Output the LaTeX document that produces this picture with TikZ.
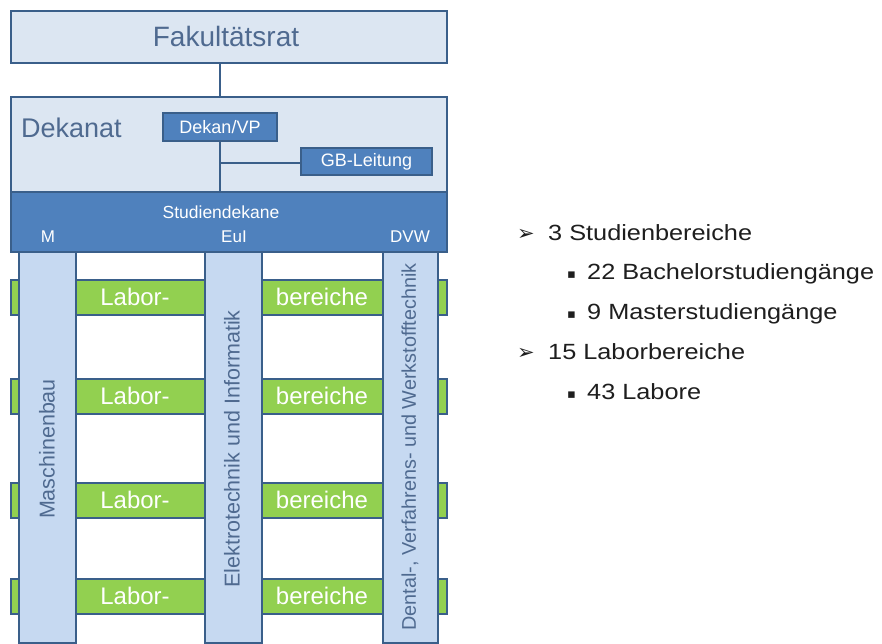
\documentclass[tikz,border=0pt]{standalone}
\usepackage{fontspec}
\setmainfont{Liberation Sans}
\newfontfamily\listfont[FakeStretch=1.15]{Liberation Sans}
\newfontfamily\symfont{DejaVu Sans}
\definecolor{lightfill}{HTML}{DCE6F2}
\definecolor{colfill}{HTML}{C6D9F1}
\definecolor{bordc}{HTML}{3A5F8A}
\definecolor{bandc}{HTML}{4F81BD}
\definecolor{greenc}{HTML}{92D050}
\definecolor{greytext}{HTML}{4F6A90}
\definecolor{listtext}{HTML}{1E1E1E}
\tikzset{
  box/.style={draw=bordc, line width=2pt, fill=lightfill},
  darkbox/.style={draw=bordc, line width=1.6pt, fill=bandc, text=white, inner sep=0pt},
  greenbar/.style={draw=bordc, line width=2pt, fill=greenc},
  column/.style={draw=bordc, line width=2pt, fill=colfill},
  conn/.style={draw=bordc, line width=2pt},
  listitem/.style={anchor=base west, inner sep=0pt, text=listtext, font=\listfont\fontsize{22}{26}\selectfont},
}
\newcommand{\arrowmark}{\makebox[31pt][l]{\symfont\fontsize{21}{24}\selectfont ➢}}
\newcommand{\sqmark}{\makebox[20pt][l]{\raisebox{1pt}{\symfont\fontsize{13}{16}\selectfont ▪}}}
\begin{document}
\begin{tikzpicture}[x=1pt, y=-1pt]
\useasboundingbox (0,0) rectangle (882,643);
% Fakultaetsrat
\node[box, minimum width=436pt, minimum height=52pt, anchor=north west, inner sep=0pt] (fak) at (10,10) {};
\node[text=greytext, font=\fontsize{28}{32}\selectfont] (faktext) at (226,36) {Fakultätsrat};
% Dekanat
\node[box, minimum width=436pt, minimum height=96pt, anchor=north west, inner sep=0pt] (dek) at (10,96) {};
\draw[conn] (fak.south -| 220,0) -- (dek.north -| 220,0);
\node[text=greytext, font=\fontsize{27}{31}\selectfont, anchor=base west, inner sep=0pt] (dektext) at (21,137) {Dekanat};
% band
\node[draw=bordc, line width=2pt, fill=bandc, minimum width=436pt, minimum height=60pt, anchor=north west, inner sep=0pt] (band) at (10,191) {};
\node[text=white, font=\fontsize{17.5}{20}\selectfont] (sd) at (221,212) {Studiendekane};
\node[text=white, font=\fontsize{17}{20}\selectfont] (lm) at (48,237) {M};
\node[text=white, font=\fontsize{17}{20}\selectfont] (le) at (234,237) {EuI};
\node[text=white, font=\fontsize{17}{20}\selectfont] (ld) at (410,237) {DVW};
% Dekan/VP and GB-Leitung
\node[darkbox, minimum width=114pt, minimum height=28pt, font=\fontsize{18}{20}\selectfont] (dvp) at (220,127) {Dekan/VP};
\node[darkbox, minimum width=131pt, minimum height=27pt, font=\fontsize{18}{20}\selectfont] (gbl) at (366.5,161.5) {GB-Leitung};
\coordinate (junc) at (220,163);
\draw[conn] (dvp.south) -- (band.north -| dvp.south);
\draw[conn] (junc) -- (gbl.west |- junc);
% green bars
\foreach \yy/\nm in {279/g1, 378/g2, 482/g3, 578/g4} {
  \node[greenbar, minimum width=436pt, minimum height=35pt, anchor=north west, inner sep=0pt] (\nm) at (10,\yy) {};
  \node[text=white, font=\fontsize{24}{28}\selectfont] (\nm a) at (135,\yy+17.5) {Labor-};
  \node[text=white, font=\fontsize{24}{28}\selectfont] (\nm b) at (322,\yy+17.5) {bereiche};
}
% columns
\node[column, minimum width=57pt, minimum height=391pt, anchor=north west, inner sep=0pt] (cm) at (18,251) {};
\node[column, minimum width=57pt, minimum height=391pt, anchor=north west, inner sep=0pt] (ce) at (204,251) {};
\node[column, minimum width=55pt, minimum height=391pt, anchor=north west, inner sep=0pt] (cd) at (382,251) {};
\node[rotate=90, text=greytext, font=\fontsize{21.5}{24}\selectfont] (cmt) at (47,449) {Maschinenbau};
\node[rotate=90, text=greytext, font=\fontsize{21.5}{24}\selectfont] (cet) at (232,449) {Elektrotechnik und Informatik};
\node[rotate=90, text=greytext, font=\fontsize{19.8}{22}\selectfont] (cdt) at (410,447) {Dental-, Verfahrens- und Werkstofftechnik};
% list
\node[listitem] (a1) at (517,240) {\arrowmark 3 Studienbereiche};
\node[listitem] (b1) at (567,279) {\sqmark 22 Bachelorstudiengänge};
\node[listitem] (b2) at (567,319) {\sqmark 9 Masterstudiengänge};
\node[listitem] (a2) at (517,359) {\arrowmark 15 Laborbereiche};
\node[listitem] (b3) at (567,399) {\sqmark 43 Labore};
\end{tikzpicture}
\end{document}
